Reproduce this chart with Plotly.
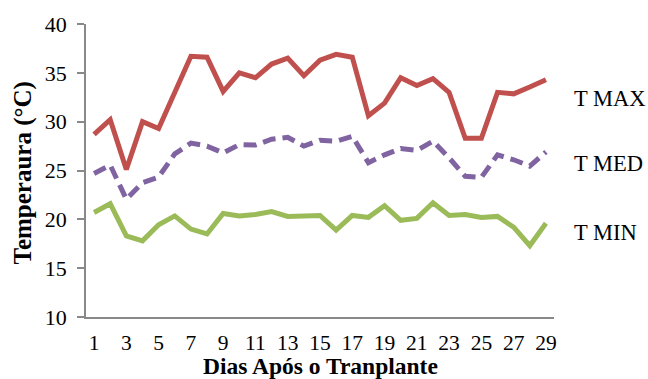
import plotly.graph_objects as go

# Days after transplant
dias = list(range(1, 30))

# Daily temperatures (°C)
t_max = [28.7, 30.2, 25.1, 30.0, 29.3, 33.1, 36.7, 36.6, 33.1, 35.0,
         34.5, 35.9, 36.5, 34.7, 36.3, 36.9, 36.6, 30.6, 31.9, 34.5,
         33.7, 34.4, 33.0, 28.3, 28.3, 33.0, 32.85, 33.55, 34.3]
t_med = [24.7, 25.55, 22.06, 23.75, 24.33, 26.7, 27.8, 27.5, 26.8, 27.65,
         27.6, 28.2, 28.4, 27.5, 28.1, 28.0, 28.5, 25.8, 26.6, 27.25,
         27.05, 28.0, 26.3, 24.4, 24.3, 26.6, 26.1, 25.45, 26.9]
t_min = [20.7, 21.6, 18.3, 17.8, 19.45, 20.35, 19.0, 18.5, 20.6, 20.35,
         20.5, 20.8, 20.3, 20.3, 20.4, 18.9, 20.4, 20.2, 21.4, 19.9,
         20.1, 21.7, 20.4, 20.5, 20.2, 20.3, 19.2, 17.3, 19.6]

x_ticks = list(range(1, 30, 2))
y_ticks = [10, 15, 20, 25, 30, 35, 40]

series = [
    ("T MAX", t_max, "#C0504D", "solid", 32.4),
    ("T MED", t_med, "#8064A2", "13px,7px", 25.7),
    ("T MIN", t_min, "#9BBB59", "solid", 18.7),
]

font = "Liberation Serif, Times New Roman, serif"
axis_color = "#898989"

fig = go.Figure()
for name, vals, color, dash, label_y in series:
    fig.add_trace(go.Scatter(
        x=dias, y=vals, mode="lines", name=name,
        line=dict(color=color, width=5, dash=dash),
        showlegend=False,
    ))
    fig.add_annotation(
        x=1.038, xref="paper", y=label_y, yref="y",
        text=name, showarrow=False, xanchor="left", yanchor="middle",
        font=dict(family=font, size=22.5, color="#000000"),
    )

# Axis titles
fig.add_annotation(
    x=0.5, xref="paper", y=0, yref="paper", yshift=-49,
    text="<b>Dias Após o Tranplante</b>", showarrow=False,
    xanchor="center", yanchor="middle",
    font=dict(family=font, size=23.5, color="#000000"),
)
fig.add_annotation(
    x=0, xref="paper", y=0.5, yref="paper", xshift=-64, yshift=-3,
    text="<b>Temperaura (°C)</b>", showarrow=False, textangle=-90,
    xanchor="center", yanchor="middle",
    font=dict(family=font, size=25, color="#000000"),
)

fig.update_layout(
    width=648, height=379,
    margin=dict(l=86, r=94, t=22, b=62),
    paper_bgcolor="white", plot_bgcolor="white",
    font=dict(family=font, color="#000000"),
)

fig.update_xaxes(
    range=[0.5, 29.5],
    tickmode="array", tickvals=x_ticks, ticktext=[str(v) for v in x_ticks],
    showgrid=False, zeroline=False,
    showline=True, linecolor=axis_color, linewidth=1.5,
    ticks="", tickfont=dict(family=font, size=21.5),
    ticklabelstandoff=5,
)
fig.update_yaxes(
    range=[10, 40],
    tickmode="array", tickvals=y_ticks,
    showgrid=False, zeroline=False,
    showline=True, linecolor=axis_color, linewidth=1.5,
    ticks="outside", ticklen=7, tickcolor=axis_color, tickwidth=1.5,
    tickfont=dict(family=font, size=22),
    ticklabelstandoff=6,
)

fig.write_html("out.html")
